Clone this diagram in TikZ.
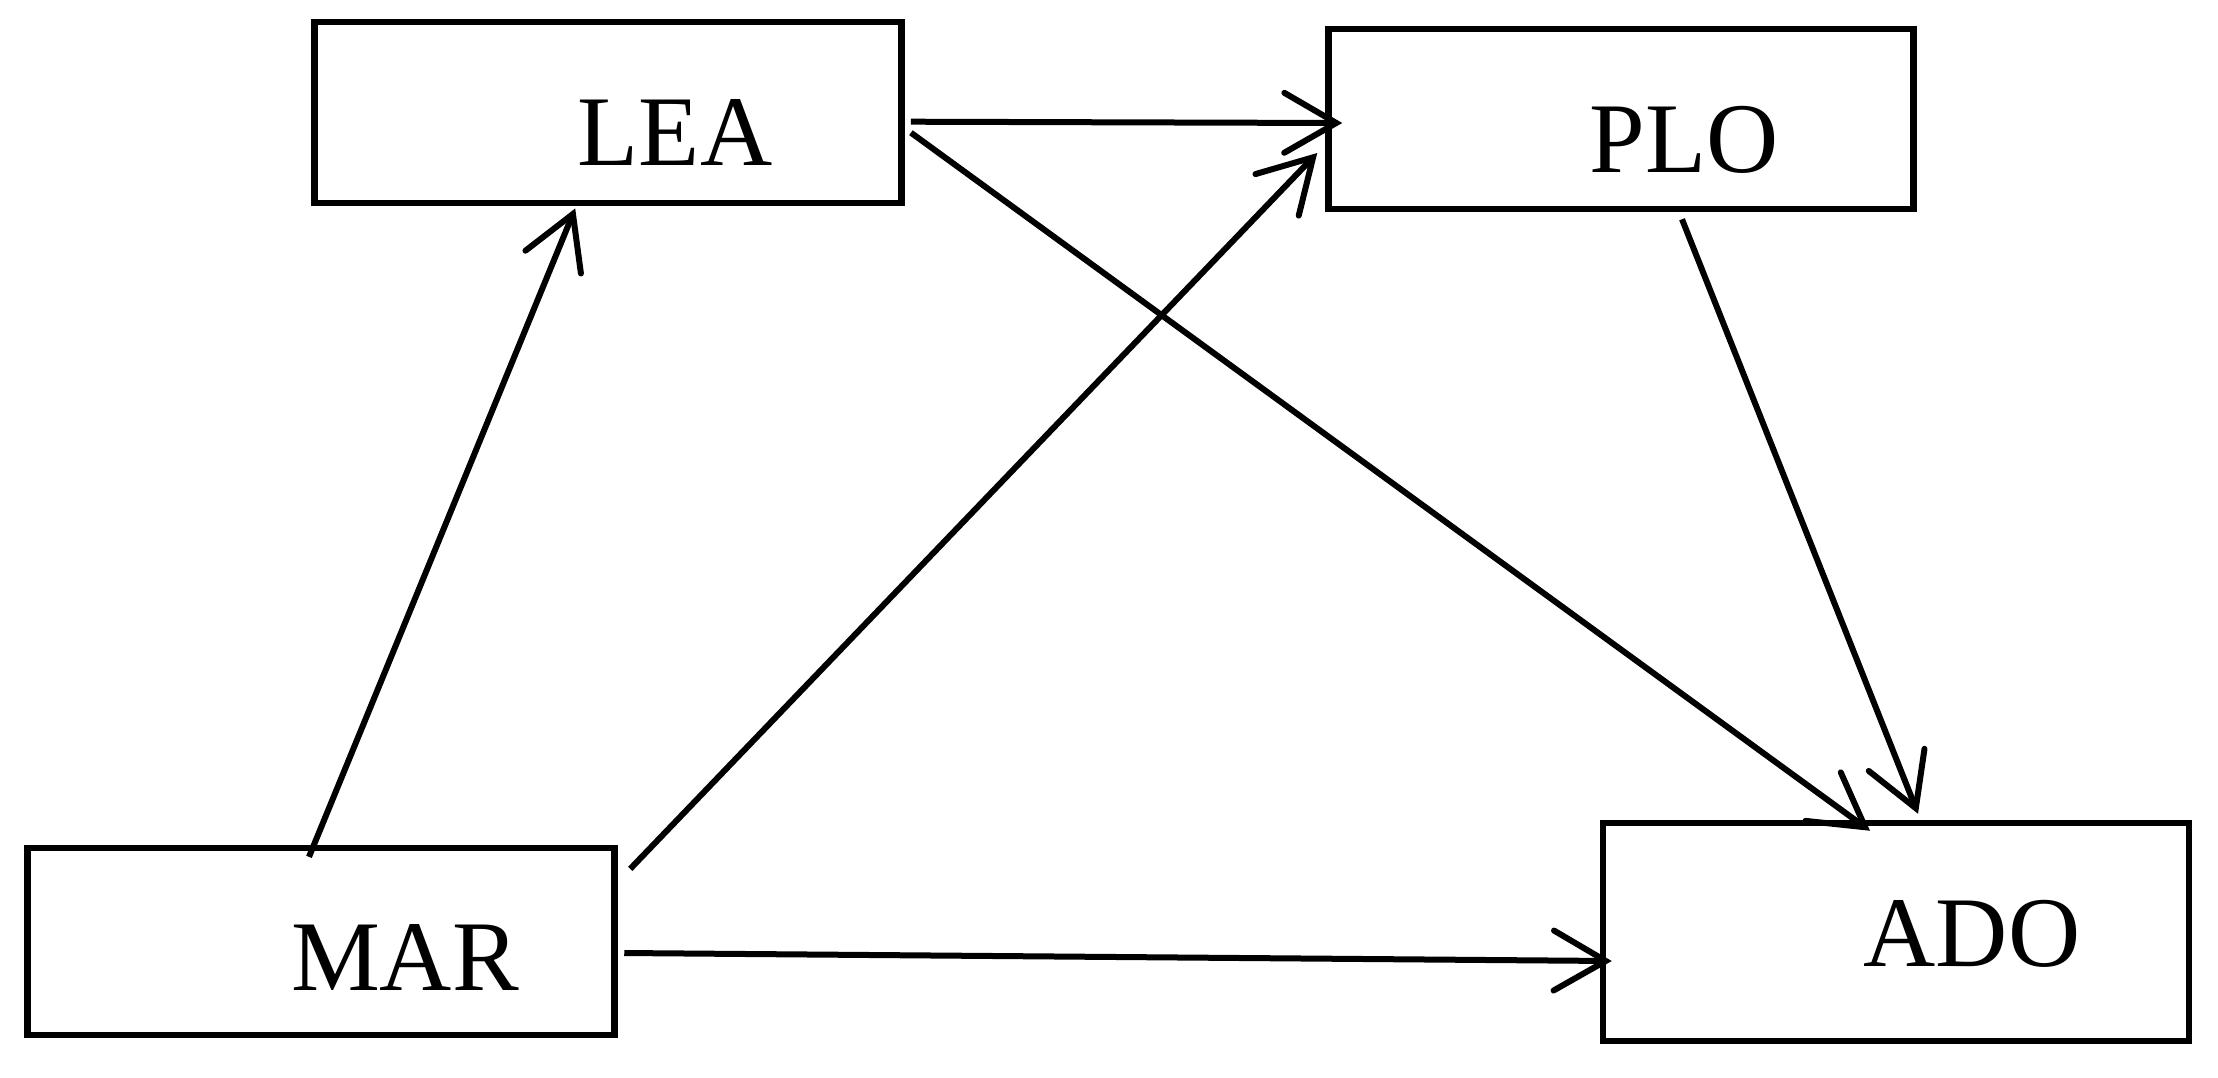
\documentclass[tikz,border=0pt]{standalone}
\usepackage{fontspec}
\setmainfont{Liberation Serif}
\usetikzlibrary{arrows.meta,calc}
\tikzset{
  box/.style={draw=black, line width=6.5pt, rectangle, inner sep=0pt, fill=none},
  lbl/.style={anchor=base, inner sep=0pt, font=\fontsize{100}{120}\selectfont},
  conn/.style={line width=6pt, -{Straight Barb[length=52pt,width=60pt,line cap=round,line join=miter]}}
}
\begin{document}
\begin{tikzpicture}[x=1pt,y=-1pt]
\useasboundingbox[fill=white] (0,0) rectangle (2218,1077);
% boxes
\node[box, minimum width=587pt, minimum height=181pt] (LEA) at (608.2,112.7) {};
\node[box, minimum width=585pt, minimum height=180pt] (PLO) at (1621,119) {};
\node[box, minimum width=587pt, minimum height=187pt] (MAR) at (321,941.6) {};
\node[box, minimum width=586pt, minimum height=218pt] (ADO) at (1896,932) {};
% labels
\node[lbl] (LEAt) at (675,165.7) {LEA};
\node[lbl] (PLOt) at (1684,172.3) {PLO};
\node[lbl] (MARt) at (405,990.7) {MAR};
\node[lbl] (ADOt) at (1972,966) {ADO};
% connector end points
\coordinate (ml1) at ($(MAR.north)+(-12,12)$);
\coordinate (ml2) at ($(LEA.south)+(-33,2)$);
\coordinate (mp1) at ($(MAR.north east)+(12.5,24)$);
\coordinate (mp2) at ($(PLO.west)+(-8,34)$);
\coordinate (ma1) at ($(MAR.east)+(6.5,11.4)$);
\coordinate (ma2) at ($(ADO.west)+(12,29)$);
\coordinate (lp1) at ($(LEA.east)+(6,9)$);
\coordinate (lp2) at ($(PLO.west)+(17,4)$);
\coordinate (la1) at ($(LEA.east)+(6,20)$);
\coordinate (la2) at ($(ADO.north)+(-26,11)$);
\coordinate (pa1) at ($(PLO.south)+(61,7)$);
\coordinate (pa2) at ($(ADO.north)+(22,-6)$);
% connectors
\draw[conn] (ml1) -- (ml2);
\draw[conn] (mp1) -- (mp2);
\draw[conn] (ma1) -- (ma2);
\draw[conn] (lp1) -- (lp2);
\draw[conn] (la1) -- (la2);
\draw[conn] (pa1) -- (pa2);
\end{tikzpicture}
\end{document}
